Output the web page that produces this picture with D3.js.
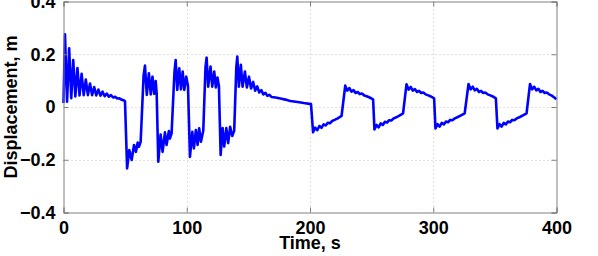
<!DOCTYPE html>
<html>
<head>
<meta charset="utf-8">
<script src="https://cdn.jsdelivr.net/npm/d3@7"></script>
<style>
  body { margin: 0; background: #fff; }
  svg { display: block; }
  text { font-family: "Liberation Sans", Arial, Helvetica, sans-serif; font-weight: bold; }
</style>
</head>
<body>
<script>
//------------ DATA (time s, displacement m) ------------------------------------

const xTicks = [0, 100, 200, 300, 400];
const yTicks = [-0.4, -0.2, 0, 0.2, 0.4];

// free ringing after the first kick, 0-50 s
const decayStart = [
  [0, 0.015], [1.2, 0.276], [2.9, 0.02], [4.6, 0.223], [6.3, 0.033], [7.9, 0.178],
  [9.6, 0.04], [11.3, 0.148], [13.0, 0.044], [14.7, 0.126], [16.4, 0.045], [18.1, 0.104],
  [19.8, 0.045], [21.5, 0.089], [23.2, 0.045], [24.9, 0.076], [26.6, 0.044], [28.3, 0.066],
  [30.0, 0.043], [31.7, 0.058], [33.4, 0.041], [35.1, 0.051], [36.8, 0.039], [38.5, 0.045],
  [40.2, 0.036], [41.9, 0.039], [43.6, 0.032], [45.3, 0.033], [47.0, 0.028], [48.7, 0.026],
  [49.9, 0.022]
];

// fast switching, 50-150 s
const switching = [
  [51.6, -0.233], [53.4, -0.163], [55.3, -0.201], [57.2, -0.144], [58.8, -0.17], [60.2, -0.135],
  [61.2, -0.151], [62.6, -0.132], [65.0, 0.12], [66.1, 0.157], [67.6, 0.046], [69.3, 0.128],
  [70.8, 0.048], [72.2, 0.115], [73.6, 0.05], [74.8, 0.098], [75.6, 0.052],
  [76.9, -0.207], [78.8, -0.104], [80.4, -0.17], [82.3, -0.096], [83.6, -0.144], [85.5, -0.091],
  [86.3, -0.12], [87.7, -0.1], [90.0, 0.13], [91.0, 0.178], [92.3, 0.065], [93.9, 0.147],
  [95.3, 0.067], [96.7, 0.134], [98.0, 0.065], [99.6, 0.115], [101.0, 0.08],
  [102.6, -0.189], [104.5, -0.094], [105.8, -0.157], [107.4, -0.087], [108.8, -0.144],
  [110.1, -0.081], [111.5, -0.132], [113.4, -0.09], [115.2, 0.15], [116.1, 0.187],
  [117.4, 0.077], [119.3, 0.153], [120.7, 0.077], [122.3, 0.134], [123.6, 0.074],
  [124.9, 0.112], [126.1, 0.08],
  [127.5, -0.182], [129.1, -0.08], [130.4, -0.15], [132.1, -0.08], [133.6, -0.137],
  [135.2, -0.075], [136.9, -0.11], [138.5, -0.09], [140.2, 0.15], [141.0, 0.191],
  [142.3, 0.077], [143.9, 0.16], [145.3, 0.077], [147.2, 0.134], [148.8, 0.074]
];

// slow decay, 150-200 s
const decayMid = [
  [150.5, 0.115], [152.2, 0.07], [153.9, 0.095], [155.5, 0.062], [157.2, 0.078],
  [158.8, 0.055], [160.5, 0.064], [162.1, 0.048], [163.8, 0.054], [165.4, 0.042],
  [167.1, 0.046], [168.7, 0.038], [172, 0.036], [176, 0.032], [180, 0.028], [184, 0.023],
  [190, 0.019], [195, 0.015], [200.8, 0.011]
];

// slow square wave response, 200-400 s
const squareResp = [
  [202.5, -0.096], [204.2, -0.078], [205.9, -0.088], [207.6, -0.072], [209.3, -0.079],
  [211, -0.066], [212.7, -0.07], [214.4, -0.06], [216.1, -0.062], [218, -0.053],
  [220, -0.049], [222.5, -0.043], [225.6, -0.034], [228.6, 0.081], [230.2, 0.062],
  [231.9, 0.072], [233.6, 0.058], [235.3, 0.064], [237, 0.053], [238.7, 0.057],
  [240.4, 0.049], [242.1, 0.051], [244, 0.044], [246, 0.041], [248, 0.037], [251.2, 0.029],
  [252.3, -0.085], [254, -0.068], [255.7, -0.077], [257.4, -0.062], [259.1, -0.068],
  [260.8, -0.056], [262.5, -0.059], [264.2, -0.05], [266, -0.051], [268, -0.043],
  [270, -0.039], [272.5, -0.033], [275.5, -0.024], [278.3, 0.086], [280, 0.066],
  [281.7, 0.076], [283.4, 0.062], [285.1, 0.068], [286.8, 0.057], [288.5, 0.061],
  [290.2, 0.053], [291.9, 0.055], [293.8, 0.048], [296, 0.044], [298, 0.04], [300.7, 0.033],
  [301.8, -0.081], [303.5, -0.065], [305.2, -0.074], [306.9, -0.06], [308.6, -0.066],
  [310.3, -0.055], [312, -0.058], [313.7, -0.049], [315.5, -0.05], [317.5, -0.043],
  [320, -0.038], [322.5, -0.032], [325.5, -0.024], [328.6, 0.087], [330.3, 0.067],
  [332, 0.077], [333.7, 0.063], [335.4, 0.069], [337.1, 0.057], [338.8, 0.061],
  [340.5, 0.053], [342.2, 0.055], [344.1, 0.048], [346.3, 0.044], [348.3, 0.04], [350.8, 0.033],
  [352.1, -0.081], [353.8, -0.065], [355.5, -0.074], [357.2, -0.06], [358.9, -0.066],
  [360.6, -0.055], [362.3, -0.058], [364, -0.049], [365.8, -0.05], [367.8, -0.043],
  [370.3, -0.038], [372.8, -0.032], [375.7, -0.024], [378.5, 0.087], [380.2, 0.067],
  [381.9, 0.077], [383.6, 0.063], [385.3, 0.069], [387, 0.057], [388.7, 0.061],
  [390.4, 0.053], [392.1, 0.055], [394, 0.048], [396.2, 0.043], [398.2, 0.036], [400, 0.029]
];

//----------------------------------------------------------------------------

const width = 598, height = 256;
const margin = { left: 63.5, right: 41.5, top: 1.5, bottom: 43.5 };

const svg = d3.select("body").append("svg")
    .attr("width", width)
    .attr("height", height);

const x = d3.scaleLinear().domain([0, 400]).range([margin.left, width - margin.right]);
const y = d3.scaleLinear().domain([-0.4, 0.4]).range([height - margin.bottom, margin.top]);

const fmtY = d => d === 0 ? "0" : d3.format(".1f")(d).replace("-", "\u2212");
const fmtX = d3.format("d");

// grid (dotted)
const grid = svg.append("g")
    .attr("stroke", "#c4c4c4")
    .attr("stroke-width", 1)
    .attr("stroke-dasharray", "1,3");

grid.selectAll(".gx").data(xTicks.slice(1, -1)).join("line")
    .attr("x1", d => Math.round(x(d)) + 0.5).attr("x2", d => Math.round(x(d)) + 0.5)
    .attr("y1", y(0.4)).attr("y2", y(-0.4));

grid.selectAll(".gy").data(yTicks.slice(1, -1)).join("line")
    .attr("y1", d => Math.round(y(d)) + 0.5).attr("y2", d => Math.round(y(d)) + 0.5)
    .attr("x1", x(0)).attr("x2", x(400));

// data line
const allPoints = [].concat(decayStart, switching, decayMid, squareResp);

const line = d3.line()
    .x(d => x(d[0]))
    .y(d => y(d[1]));

svg.append("path")
    .datum(allPoints)
    .attr("fill", "none")
    .attr("stroke", "#0000ff")
    .attr("stroke-width", 2.6)
    .attr("stroke-linejoin", "round")
    .attr("d", line);

// axes (MATLAB style: ticks inside, box all round)
const bottomAxis = d3.axisBottom(x).tickValues(xTicks).tickSize(-5).tickPadding(9).tickFormat(fmtX);
const topAxis = d3.axisTop(x).tickValues(xTicks).tickSize(-5).tickFormat("");
const leftAxis = d3.axisLeft(y).tickValues(yTicks).tickSize(-5).tickPadding(8).tickFormat(fmtY);
const rightAxis = d3.axisRight(y).tickValues(yTicks).tickSize(-5).tickFormat("");

function styleAxis(g) {
  g.selectAll("path, line").attr("stroke", "#808080");
  g.selectAll("text").attr("fill", "#000").attr("font-size", 18);
  g.attr("font-family", null);
}

svg.append("g").attr("transform", `translate(0,${y(-0.4)})`).call(bottomAxis).call(styleAxis);
svg.append("g").attr("transform", `translate(0,${y(0.4)})`).call(topAxis).call(styleAxis);
svg.append("g").attr("transform", `translate(${x(0)},0)`).call(leftAxis).call(styleAxis);
svg.append("g").attr("transform", `translate(${x(400)},0)`).call(rightAxis).call(styleAxis);

// axis labels
svg.append("text")
    .attr("x", (x(0) + x(400)) / 2)
    .attr("y", 249)
    .attr("text-anchor", "middle")
    .attr("font-size", 18)
    .text("Time, s");

svg.append("text")
    .attr("transform", `translate(17,${(y(0.4) + y(-0.4)) / 2}) rotate(-90)`)
    .attr("text-anchor", "middle")
    .attr("font-size", 18)
    .text("Displacement, m");
</script>
</body>
</html>
